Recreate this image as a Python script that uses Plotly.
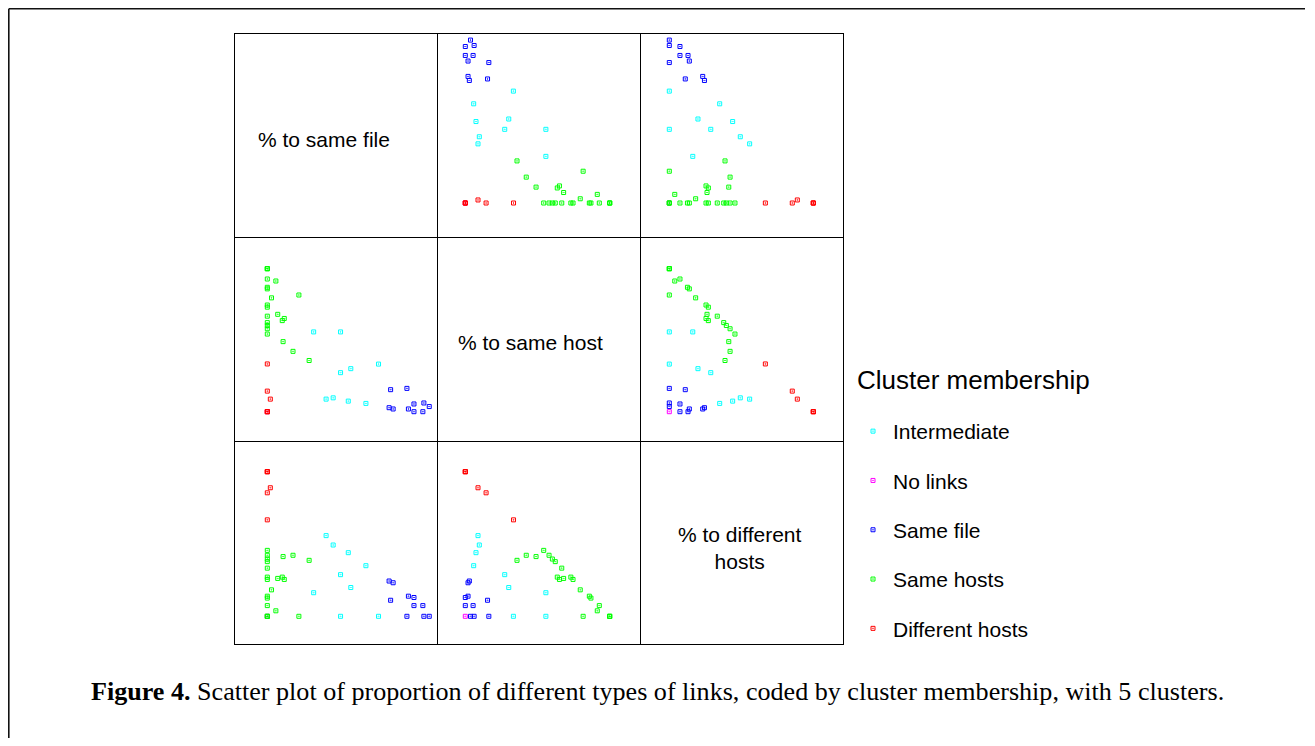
import plotly.graph_objects as go

# ---------------- data (percent of links) ----------------
variables = ["% to same file", "% to same host", "% to different hosts"]
clusters = ["Intermediate", "No links", "Same file", "Same hosts", "Different hosts"]
cluster_colors = ["#00ffff", "#ff00ff", "#0000ff", "#00ff00", "#ff0000"]
legend_title = "Cluster membership"

inter_file = [66.2, 58.7, 49.7, 48.2, 43.6, 43.6, 39.2, 35.0, 27.6]
inter_host = [33.3, 5.8, 30.1, 7.4, 27.3, 55.8, 9.7, 8.8, 55.8]
inter_diff = [0.0, 35.0, 19.9, 44.0, 28.8, 0.0, 49.3, 55.8, 16.3]

nolink_file = [0.0]
nolink_host = [0.0]
nolink_diff = [0.0]

samefile_file = [96.4, 93.2, 92.6, 87.3, 87.3, 84.0, 83.1, 74.9, 72.5, 73.4]
samefile_host = [3.6, 6.1, 0.0, 0.0, 5.4, 1.9, 16.3, 1.9, 2.8, 15.4]
samefile_diff = [0.0, 0.0, 7.4, 13.0, 7.4, 13.9, 0.0, 23.2, 24.4, 11.1]

samehost_file = [24.9, 18.8, 15.3, 10.1, 9.4, 8.9, 6.2, 5.1, 2.5,
                 0.0, 0.0, 0.0, 0.0, 0.0, 0.0, 0.0, 0.0, 0.0, 0.0, 0.0, 0.0, 0.0]
samehost_host = [35.8, 81.6, 42.2, 65.2, 49.0, 63.7, 68.1, 91.4, 79.6,
                 54.3, 58.0, 60.3, 62.3, 66.8, 73.1, 74.6, 85.9, 87.0, 92.8, 100.0, 100.0, 100.0]
samehost_diff = [38.7, 0.0, 42.2, 25.5, 41.3, 27.1, 26.2, 3.8, 18.3,
                 45.6, 42.2, 39.6, 37.8, 33.3, 27.1, 25.5, 13.9, 12.6, 7.4, 0.0, 0.0, 0.0]

diffhost_file = [0.0, 0.0, 1.8, 0.0, 0.0, 0.0]
diffhost_host = [33.4, 14.4, 8.8, 0.0, 0.0, 0.0]
diffhost_diff = [66.7, 85.4, 88.9, 100.0, 100.0, 100.0]

cluster_data = [
    (inter_file, inter_host, inter_diff),
    (nolink_file, nolink_host, nolink_diff),
    (samefile_file, samefile_host, samefile_diff),
    (samehost_file, samehost_host, samehost_diff),
    (diffhost_file, diffhost_host, diffhost_diff),
]

caption_bold = "Figure 4."
caption_text = (" Scatter plot of proportion of different types of links, "
                "coded by cluster membership, with 5 clusters.")

# ---------------- layout geometry (page pixels) ----------------
W, H = 1297, 730
OFF = 8  # default body margin of the html page
col_edges = [234, 437, 640, 843]
row_edges = [33, 237, 441, 644]
# pixel of value 0 and pixels per percent, per variable, for columns / rows
col_zero = [267.3, 465.3, 669.3]
col_scale = [1.68, 1.444, 1.44]
row_zero = [203.0, 411.7, 616.3]
row_scale = [1.69, 1.43, 1.446]


def px(x):
    return (x - OFF) / W


def py(y):
    return 1 - (y - OFF) / H


fig = go.Figure()
layout_axes = {}
k = 0
for r in range(3):
    for c in range(3):
        if r == c:
            continue
        k += 1
        sx = "" if k == 1 else str(k)
        L, R = col_edges[c], col_edges[c + 1]
        T, B = row_edges[r], row_edges[r + 1]
        xr = [(L - col_zero[c]) / col_scale[c], (R - col_zero[c]) / col_scale[c]]
        yr = [(row_zero[r] - B) / row_scale[r], (row_zero[r] - T) / row_scale[r]]
        common = dict(showgrid=False, zeroline=False, showticklabels=False,
                      ticks="", showline=False, fixedrange=True)
        layout_axes["xaxis" + sx] = dict(domain=[px(L), px(R)], range=xr,
                                         anchor="y" + sx, **common)
        layout_axes["yaxis" + sx] = dict(domain=[py(B), py(T)], range=yr,
                                         anchor="x" + sx, **common)
        for i, (name, col) in enumerate(zip(clusters, cluster_colors)):
            d = cluster_data[i]
            fig.add_trace(go.Scatter(
                x=d[c], y=d[r], mode="markers", name=name,
                legendgroup=name, showlegend=(k == 1),
                marker=dict(symbol="square-open-dot", size=4, color=col,
                            line=dict(width=1, color=col)),
                xaxis="x" + sx, yaxis="y" + sx, hoverinfo="x+y+name"))

shapes = []
# cell grid
for xe in col_edges:
    shapes.append(dict(type="line", xref="paper", yref="paper",
                       x0=px(xe + 0.5), x1=px(xe + 0.5),
                       y0=py(row_edges[0]), y1=py(row_edges[-1] + 1),
                       line=dict(color="black", width=1)))
for ye in row_edges:
    shapes.append(dict(type="line", xref="paper", yref="paper",
                       x0=px(col_edges[0]), x1=px(col_edges[-1] + 1),
                       y0=py(ye + 0.5), y1=py(ye + 0.5),
                       line=dict(color="black", width=1)))
# outer frame (top and left edges visible)
shapes.append(dict(type="line", xref="paper", yref="paper",
                   x0=px(8.8), x1=1.0, y0=py(8.8), y1=py(8.8),
                   line=dict(color="#111111", width=1.6)))
shapes.append(dict(type="line", xref="paper", yref="paper",
                   x0=px(8.8), x1=px(8.8), y0=py(8.8), y1=0.0,
                   line=dict(color="#111111", width=1.6)))

sans = "Liberation Sans, Arial, sans-serif"
annotations = [
    dict(text=variables[0], x=px(323.5), y=py(139), showarrow=False,
         xref="paper", yref="paper", xanchor="center", yanchor="middle",
         font=dict(family=sans, size=21, color="black")),
    dict(text=variables[1], x=px(530.5), y=py(342), showarrow=False,
         xref="paper", yref="paper", xanchor="center", yanchor="middle",
         font=dict(family=sans, size=21, color="black")),
    dict(text="% to different<br>hosts", x=px(740), y=py(548), showarrow=False,
         xref="paper", yref="paper", xanchor="center", yanchor="middle",
         font=dict(family=sans, size=21, color="black")),
    dict(text=legend_title, x=px(855), y=py(380), showarrow=False,
         xref="paper", yref="paper", xanchor="left", yanchor="middle",
         font=dict(family=sans, size=26, color="black")),
    dict(text="<b>" + caption_bold + "</b>" + caption_text,
         x=px(89), y=py(691), showarrow=False,
         xref="paper", yref="paper", xanchor="left", yanchor="middle",
         font=dict(family="Liberation Serif, Times New Roman, serif",
                   size=26.1, color="black")),
]

fig.update_layout(
    width=W, height=H,
    margin=dict(l=0, r=0, t=0, b=0),
    paper_bgcolor="white", plot_bgcolor="white",
    shapes=shapes, annotations=annotations,
    legend=dict(font=dict(family=sans, size=21, color="black"),
                x=px(853), y=py(411), xanchor="left", yanchor="top",
                tracegroupgap=19, bgcolor="rgba(0,0,0,0)", traceorder="grouped"),
    **layout_axes,
)

fig.write_html("out.html")
